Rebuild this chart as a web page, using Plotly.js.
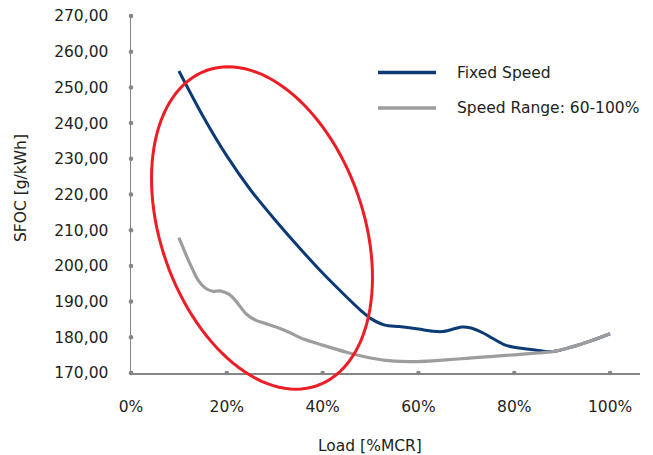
<!DOCTYPE html>
<html><head><meta charset="utf-8">
<script src="https://cdn.plot.ly/plotly-3.0.1.min.js"></script>
<style>html,body{margin:0;padding:0;background:#fff}#chart{width:653px;height:455px}</style>
</head><body><div id="chart"></div>
<script>
// ---- Data ----
const fixedLoad = [10, 15, 20, 25, 30, 35, 40, 45, 48, 50, 53, 56, 60, 63, 65, 67, 69, 71, 73.5, 76, 78, 80, 84, 88, 92, 96, 100];
const fixedSfoc = [254.6, 242.0, 230.8, 221.2, 213.0, 205.3, 198.0, 191.3, 187.5, 185.3, 183.4, 183.0, 182.3, 181.7, 181.6, 182.2, 182.9, 182.6, 181.2, 179.3, 177.9, 177.2, 176.5, 176.0, 177.3, 179.0, 181.0];
const rangeLoad = [10, 12, 14, 15.5, 17, 18.6, 20.5, 22, 24, 26, 28, 30, 33, 36, 40, 45, 50, 55, 60, 65, 70, 75, 80, 85, 88, 92, 96, 100];
const rangeSfoc = [207.9, 201.5, 196.0, 193.8, 192.9, 193.0, 192.0, 190.0, 186.6, 184.8, 183.9, 183.0, 181.4, 179.5, 177.8, 175.8, 174.2, 173.3, 173.2, 173.6, 174.1, 174.6, 175.1, 175.6, 176.0, 177.3, 179.0, 181.0];
const xTicks = [0, 20, 40, 60, 80, 100];
const xTickText = ['0%', '20%', '40%', '60%', '80%', '100%'];
const yTicks = [170, 180, 190, 200, 210, 220, 230, 240, 250, 260, 270];
const yTickText = ['170,00','180,00','190,00','200,00','210,00','220,00','230,00','240,00','250,00','260,00','270,00'];
const seriesNames = ['Fixed Speed', 'Speed Range: 60-100%'];
const seriesColors = ['#0b3a75', '#9d9d9f'];

// ---- Layout geometry ----
const W = 653, H = 455;
const M = {l: 131, r: 13, t: 16, b: 82};
const xRange = [0, 106.25], yRange = [170, 270];
const pw = W - M.l - M.r, ph = H - M.t - M.b;
const FONT = 'DejaVu Sans, sans-serif';
const TXT = '#231f20';
const AX = '#858585';

function pxToPX(px){ return (px - M.l) / pw; }
function pyToPY(py){ return (M.t + ph - py) / ph; }

// highlight ellipse (pixel-space parameters -> paper coords, so it is not clipped)
const ell = {cx: 262, cy: 228, a: 167, b: 101.5, th: 19.2 * Math.PI / 180};
let path = '';
for (let i = 0; i <= 120; i++) {
  const t = i / 120 * 2 * Math.PI;
  const ux = -Math.sin(ell.th), uy = -Math.cos(ell.th);
  const vx = Math.cos(ell.th), vy = -Math.sin(ell.th);
  const px = ell.cx + ell.a * Math.cos(t) * ux + ell.b * Math.sin(t) * vx;
  const py = ell.cy + ell.a * Math.cos(t) * uy + ell.b * Math.sin(t) * vy;
  path += (i === 0 ? 'M' : 'L') + pxToPX(px).toFixed(5) + ',' + pyToPY(py).toFixed(5);
}
path += 'Z';

const traces = [
  {x: fixedLoad, y: fixedSfoc, name: seriesNames[0], mode: 'lines', showlegend: false,
   line: {color: seriesColors[0], width: 3, shape: 'spline', smoothing: 0.8}},
  {x: rangeLoad, y: rangeSfoc, name: seriesNames[1], mode: 'lines', showlegend: false,
   line: {color: seriesColors[1], width: 3.2, shape: 'spline', smoothing: 0.7}},
  {x: xTicks, y: xTicks.map(() => yRange[0]), mode: 'markers', showlegend: false, hoverinfo: 'skip',
   cliponaxis: false, marker: {color: AX, size: 4.5}},
  {x: yTicks.map(() => xRange[0]), y: yTicks, mode: 'markers', showlegend: false, hoverinfo: 'skip',
   cliponaxis: false, marker: {color: AX, size: 4.5}}
];

// custom legend (line samples + labels)
const legendRows = [72.5, 108];
const legendShapes = legendRows.map((py, i) => ({
  type: 'line', xref: 'paper', yref: 'paper', x0: pxToPX(378), x1: pxToPX(436), y0: pyToPY(py), y1: pyToPY(py),
  line: {color: seriesColors[i], width: 3.5}
}));
const legendLabels = legendRows.map((py, i) => ({
  text: seriesNames[i], xref: 'paper', yref: 'paper', x: pxToPX(455), y: pyToPY(py),
  xanchor: 'left', yanchor: 'middle', showarrow: false, font: {family: FONT, size: 15.5, color: TXT}
}));

const layout = {
  width: W, height: H,
  margin: M,
  paper_bgcolor: '#fff', plot_bgcolor: '#fff',
  font: {family: FONT, color: TXT, size: 15.5},
  showlegend: false,
  xaxis: {range: xRange, tickvals: xTicks, ticktext: xTickText, showgrid: false, zeroline: false,
          showline: true, linecolor: AX, linewidth: 1.5, ticks: '', ticklabelstandoff: 19,
          tickfont: {family: FONT, size: 15.5, color: TXT}},
  yaxis: {range: yRange, tickvals: yTicks, ticktext: yTickText, showgrid: false, zeroline: false,
          showline: true, linecolor: AX, linewidth: 1.5, ticks: '', ticklabelstandoff: 18,
          tickfont: {family: FONT, size: 15.5, color: TXT}},
  shapes: [{type: 'path', xref: 'paper', yref: 'paper', path: path, layer: 'above',
            line: {color: '#ee1c25', width: 3}, fillcolor: 'rgba(0,0,0,0)'}].concat(legendShapes),
  annotations: [
    {text: 'Load [%MCR]', xref: 'paper', yref: 'paper', x: pxToPX(370), y: pyToPY(446),
     xanchor: 'center', yanchor: 'middle', showarrow: false, font: {family: FONT, size: 15.5, color: TXT}},
    {text: 'SFOC [g/kWh]', xref: 'paper', yref: 'paper', x: pxToPX(21), y: pyToPY(188),
     xanchor: 'center', yanchor: 'middle', textangle: -90, showarrow: false, font: {family: FONT, size: 15.5, color: TXT}}
  ].concat(legendLabels)
};

Plotly.newPlot('chart', traces, layout, {displayModeBar: false, staticPlot: true});
</script>
</body></html>
